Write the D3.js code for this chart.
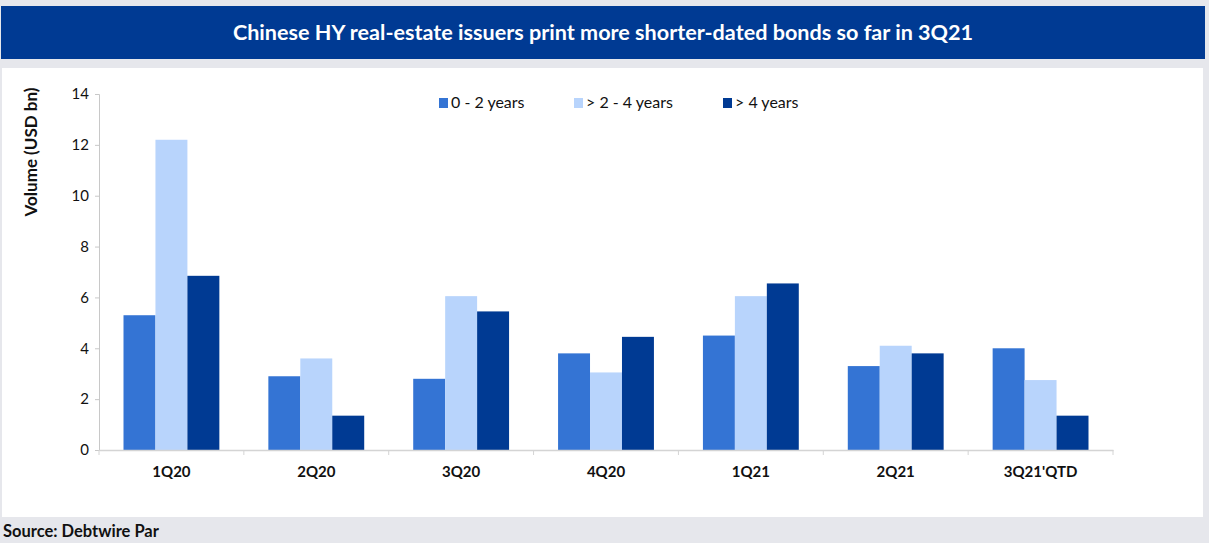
<!DOCTYPE html>
<html>
<head>
<meta charset="utf-8">
<script src="https://cdn.jsdelivr.net/npm/d3@7"></script>
<style>
  body { margin: 0; background: #e6e7ec; }
  svg { display: block; font-family: Lato, sans-serif; }
</style>
</head>
<body>
<div id="chart"></div>
<script>
var quarters = ['1Q20', '2Q20', '3Q20', '4Q20', '1Q21', '2Q21', "3Q21'QTD"];
var seriesNames = ['0 - 2 years', '> 2 - 4 years', '> 4 years'];
var shortDated = [5.3, 2.9, 2.8, 3.8, 4.5, 3.3, 4.0];
var midDated = [12.2, 3.6, 6.05, 3.05, 6.05, 4.1, 2.75];
var longDated = [6.85, 1.35, 5.45, 4.45, 6.55, 3.8, 1.35];
var yTicks = [0, 2, 4, 6, 8, 10, 12, 14];

var colors = ['#3474d4', '#b8d4fc', '#003a93'];
var series = [shortDated, midDated, longDated];

var width = 1209,
    height = 543;

var svg = d3.select('#chart')
    .append('svg')
    .attr('width', width)
    .attr('height', height);

// title banner
svg.append('rect')
    .attr('x', 1).attr('y', 6)
    .attr('width', 1204).attr('height', 53)
    .attr('fill', '#003a93');

svg.append('text')
    .attr('x', 603)
    .attr('y', 40)
    .attr('text-anchor', 'middle')
    .attr('fill', '#fff')
    .attr('font-weight', 'bold')
    .attr('font-size', 21.6)
    .text('Chinese HY real-estate issuers print more shorter-dated bonds so far in 3Q21');

// white panel
svg.append('rect')
    .attr('x', 2).attr('y', 68)
    .attr('width', 1201).attr('height', 449)
    .attr('fill', '#fff');

var plotLeft = 99, plotRight = 1113, plotTop = 94, plotBottom = 450;

var x0 = d3.scaleBand().domain(quarters).range([plotLeft, plotRight]);
var x1 = d3.scaleBand().domain(d3.range(3)).range([24.5, x0.bandwidth() - 24.5]);
var y = d3.scaleLinear().domain([0, 14]).range([plotBottom, plotTop]);

// bars
series.forEach(function (vals, s) {
    svg.append('g')
        .selectAll('rect')
        .data(vals)
        .enter()
        .append('rect')
        .attr('x', function (d, i) { return x0(quarters[i]) + x1(s); })
        .attr('y', function (d) { return y(d); })
        .attr('width', x1.bandwidth())
        .attr('height', function (d) { return y(0) - y(d); })
        .attr('fill', colors[s]);
});

// y axis
var yAxis = d3.axisLeft(y).tickValues(yTicks).tickSize(4).tickPadding(6);
var gy = svg.append('g')
    .attr('transform', 'translate(' + plotLeft + ',0)')
    .call(yAxis);
gy.select('.domain').attr('stroke', '#c8c8c8');
gy.selectAll('.tick line').attr('stroke', '#c8c8c8');
gy.selectAll('.tick text')
    .attr('font-size', 15)
    .attr('font-family', 'Lato, sans-serif')
    .attr('fill', '#111');

// x axis
var gx = svg.append('g')
    .attr('transform', 'translate(0,' + plotBottom + ')')
    .call(d3.axisBottom(x0).tickSize(0).tickPadding(16));
gx.select('.domain').attr('stroke', '#d4d4d4').attr('stroke-width', 1.5);
gx.selectAll('.tick text')
    .attr('font-size', 15)
    .attr('font-weight', 'bold')
    .attr('font-family', 'Lato, sans-serif')
    .attr('fill', '#111');
gx.selectAll('.sep')
    .data(quarters.concat(['end']))
    .enter()
    .append('line')
    .attr('class', 'sep')
    .attr('x1', function (d, i) { return plotLeft + i * x0.bandwidth(); })
    .attr('x2', function (d, i) { return plotLeft + i * x0.bandwidth(); })
    .attr('y1', 0).attr('y2', 5)
    .attr('stroke', '#d4d4d4');

// y title
svg.append('text')
    .attr('transform', 'translate(37,152) rotate(-90)')
    .attr('text-anchor', 'middle')
    .attr('font-weight', 'bold')
    .attr('font-size', 17)
    .attr('fill', '#111')
    .text('Volume (USD bn)');

// legend
var legendX = [439, 574, 723];
var legend = svg.append('g')
    .selectAll('g')
    .data(seriesNames)
    .enter()
    .append('g')
    .attr('transform', function (d, i) { return 'translate(' + legendX[i] + ',98)'; });
legend.append('rect')
    .attr('width', 9).attr('height', 10)
    .attr('fill', function (d, i) { return colors[i]; });
legend.append('text')
    .attr('x', 12)
    .attr('y', 10)
    .attr('font-size', 16)
    .attr('fill', '#111')
    .text(function (d) { return d; });

// source
svg.append('text')
    .attr('x', 3)
    .attr('y', 537)
    .attr('font-weight', 'bold')
    .attr('font-size', 16.5)
    .attr('fill', '#111')
    .text('Source: Debtwire Par');
</script>
</body>
</html>
